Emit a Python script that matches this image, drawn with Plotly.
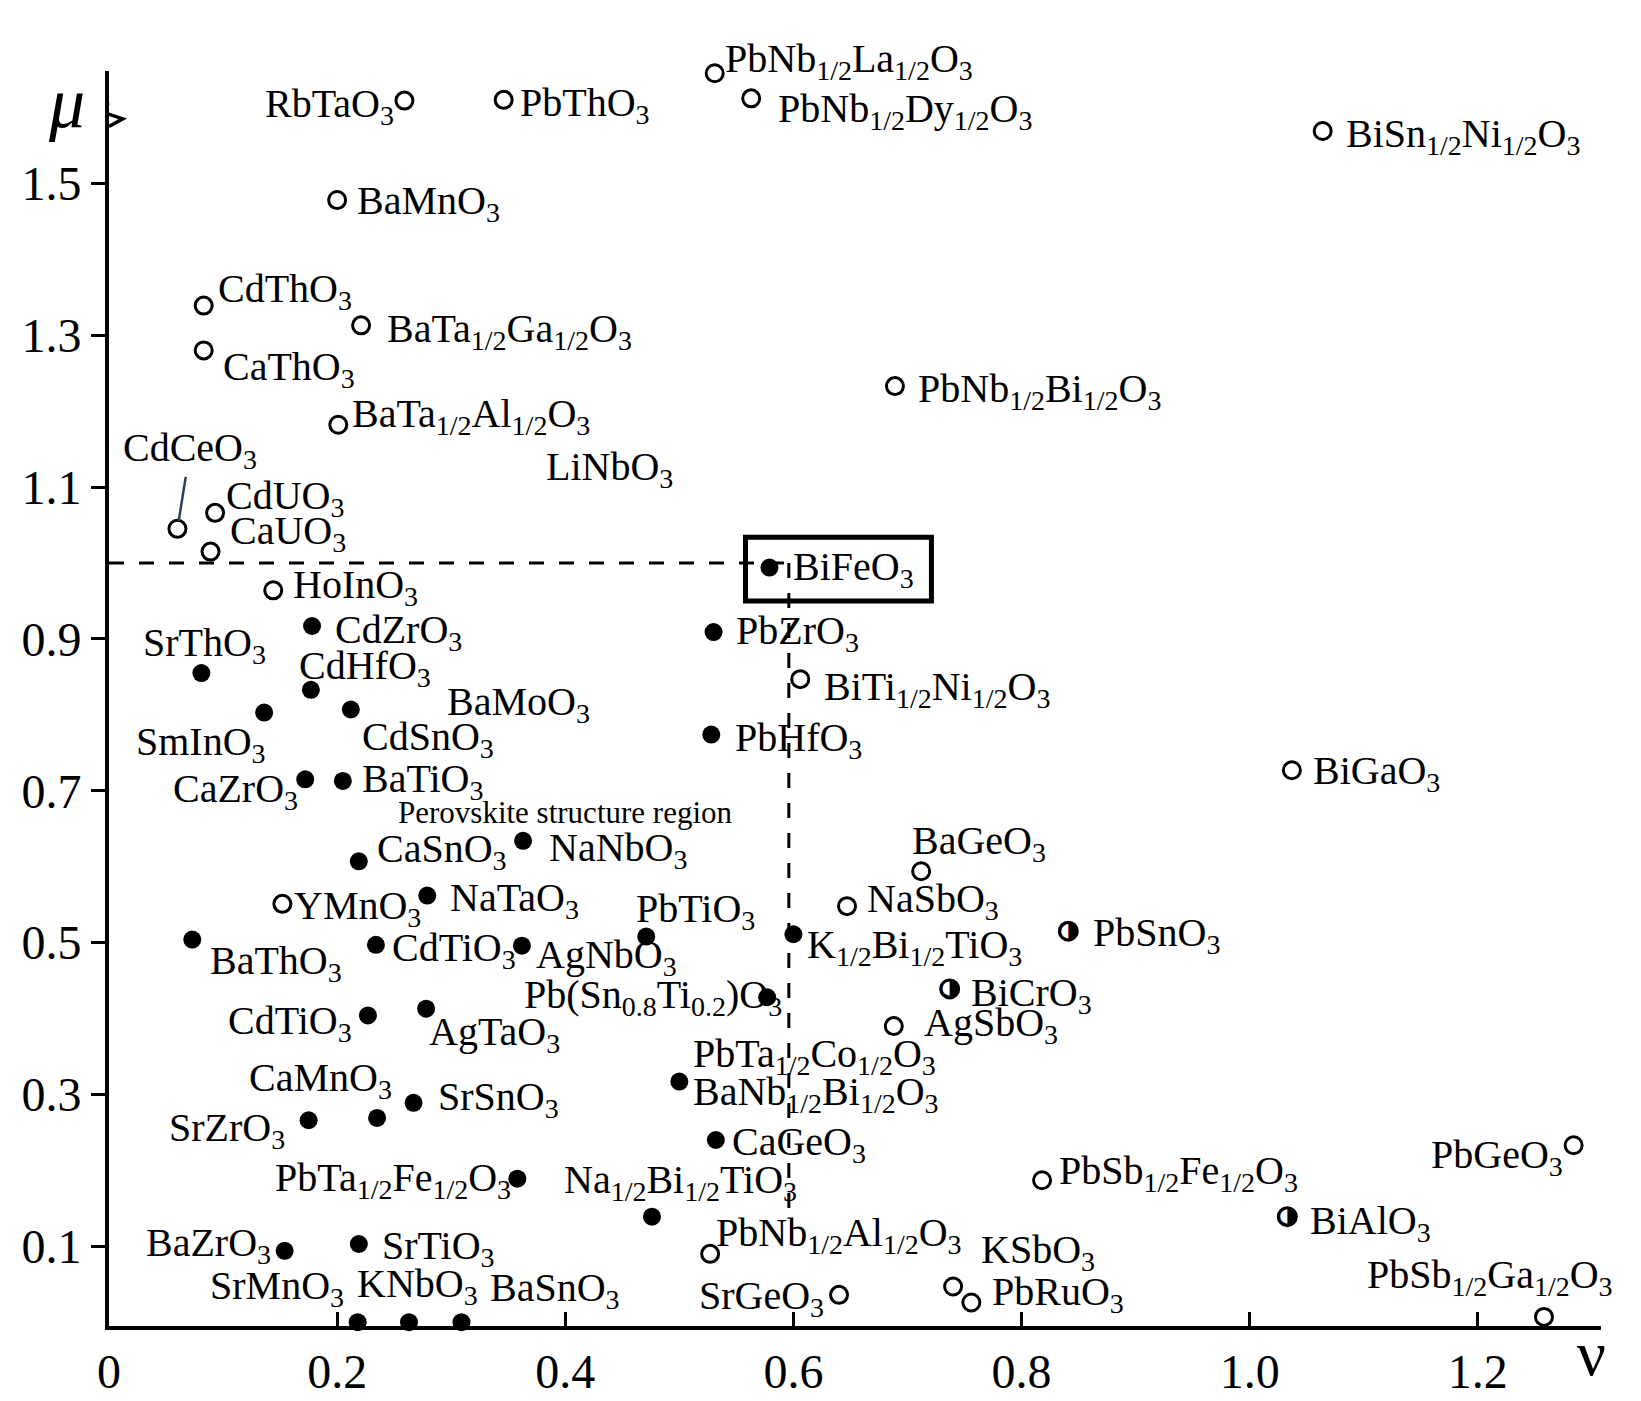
import plotly.graph_objects as go
import re

S = 1.046
def f(s):
    return re.sub(r'_\{([^}]*)\}', r'<sub>\1</sub>', s)

# open circles: name, nu, mu, label anchor, dx, dy (display px)
open_names = ["PbNb_{1/2}La_{1/2}O_{3}","RbTaO_{3}","PbThO_{3}","PbNb_{1/2}Dy_{1/2}O_{3}","BiSn_{1/2}Ni_{1/2}O_{3}",
 "BaMnO_{3}","CdThO_{3}","BaTa_{1/2}Ga_{1/2}O_{3}","CaThO_{3}","PbNb_{1/2}Bi_{1/2}O_{3}","BaTa_{1/2}Al_{1/2}O_{3}",
 "CdUO_{3}","CaUO_{3}","HoInO_{3}","BiTi_{1/2}Ni_{1/2}O_{3}","BiGaO_{3}","BaGeO_{3}","NaSbO_{3}","YMnO_{3}",
 "AgSbO_{3}","PbSb_{1/2}Fe_{1/2}O_{3}","PbGeO_{3}","PbNb_{1/2}Al_{1/2}O_{3}","SrGeO_{3}","KSbO_{3}","PbRuO_{3}",
 "PbSb_{1/2}Ga_{1/2}O_{3}","CdCeO_{3}"]
open_nu = [0.531,0.259,0.346,0.563,1.064,0.200,0.083,0.221,0.083,0.689,0.201,0.093,0.089,0.144,0.606,1.037,0.712,
 0.647,0.152,0.688,0.818,1.284,0.527,0.640,0.740,0.756,1.258,0.060]
open_mu = [1.645,1.609,1.610,1.612,1.569,1.478,1.339,1.313,1.280,1.233,1.182,1.066,1.015,0.964,0.847,0.727,0.594,
 0.548,0.551,0.390,0.187,0.233,0.090,0.036,0.047,0.026,0.007,1.045]
open_lab = [("left",8,-17),("right",-8,0),("left",14,0),("left",24,7),("left",20,0),("left",17,-2),("left",12,-19),
 ("left",23,0),("left",17,13),("left",20,0),("left",11,-13),("left",9,-19),("left",17,-23),("left",17,-8),
 ("left",21,4),("left",18,-2),("center",55,-32),("left",17,-10),("left",9,-1),("left",27,-6),("left",14,-12),
 ("right",-8,6),("left",4,-23),("right",-12,-2),("left",25,-38),("left",18,-13),("right",68,-43),None]

half_names = ["PbSnO_{3}","BiCrO_{3}","BiAlO_{3}"]
half_nu = [0.841,0.737,1.033]
half_mu = [0.515,0.439,0.139]
half_lab = [("left",22,-1),("left",18,1),("left",20,1)]

fill_names = ["BiFeO_{3}","PbZrO_{3}","SrThO_{3}","CdZrO_{3}","CdHfO_{3}","CdSnO_{3}","SmInO_{3}","PbHfO_{3}",
 "CaZrO_{3}","BaTiO_{3}","NaNbO_{3}","CaSnO_{3}","NaTaO_{3}","BaThO_{3}","CdTiO_{3}","AgNbO_{3}","PbTiO_{3}",
 "K_{1/2}Bi_{1/2}TiO_{3}","Pb(Sn_{0.8}Ti_{0.2})O_{3}","CdTiO_{3}","AgTaO_{3}","PbTa_{1/2}Co_{1/2}O_{3}",
 "SrSnO_{3}","CaMnO_{3}","SrZrO_{3}","CaGeO_{3}","PbTa_{1/2}Fe_{1/2}O_{3}","Na_{1/2}Bi_{1/2}TiO_{3}",
 "BaZrO_{3}","SrTiO_{3}","SrMnO_{3}","KNbO_{3}","BaSnO_{3}"]
fill_nu = [0.579,0.530,0.081,0.178,0.177,0.212,0.136,0.528,0.172,0.205,0.363,0.219,0.279,0.073,0.234,0.362,0.471,
 0.600,0.577,0.227,0.278,0.500,0.267,0.235,0.175,0.532,0.358,0.476,0.154,0.219,0.218,0.263,0.309]
fill_mu = [0.994,0.909,0.855,0.917,0.833,0.807,0.803,0.774,0.715,0.713,0.634,0.607,0.562,0.504,0.497,0.496,0.508,
 0.511,0.428,0.404,0.413,0.317,0.289,0.269,0.266,0.240,0.189,0.139,0.094,0.103,0.0,0.0,0.0]
fill_lab = [("left",21,-4),("left",20,-4),("right",64,-32),("left",20,1),("left",-13,-26),("left",9,23),
 ("right",4,25),("left",21,0),("right",-5,6),("left",16,-5),("left",23,4),("left",15,-15),("left",20,-1),
 ("left",15,17),("left",13,0),("left",12,6),("center",47,-29),("left",11,7),("right",16,-5),("right",-13,2),
 ("left",1,19),("left",11,-29),("left",21,-9),("right",16,-41),("right",-21,4),("left",14,-1),("right",-4,-4),
 ("left",-86,-38),("right",-11,-11),("left",20,-1),("right",-11,-38),("left",-52,-40),("left",25,-36)]

# extra labels without markers
extra_text = ["LiNbO_{3}", "BaMoO_{3}", "BaNb_{1/2}Bi_{1/2}O_{3}"]
extra_nu = [0.439, 0.359, 0.500]
extra_mu = [1.131, 0.821, 0.317]

FONT = "Liberation Serif"
fig = go.Figure()
fig.add_trace(go.Scatter(x=fill_nu, y=fill_mu, mode="markers", cliponaxis=False,
    marker=dict(symbol="circle", size=18, color="black")))
fig.add_trace(go.Scatter(x=open_nu, y=open_mu, mode="markers", cliponaxis=False,
    marker=dict(symbol="circle-open", size=17, color="black", line=dict(width=3))))
fig.add_trace(go.Scatter(x=half_nu, y=half_mu, mode="markers", cliponaxis=False,
    marker=dict(symbol="circle", size=18, color="white", line=dict(width=3, color="black"))))
fig.add_trace(go.Scatter(x=half_nu, y=half_mu, mode="text", text=["\u25D1"]*3, cliponaxis=False,
    textfont=dict(family="DejaVu Sans", size=22, color="black")))

ann = []
def add(names, xs, ys, labs):
    for n, x, y, l in zip(names, xs, ys, labs):
        if l is None:
            continue
        a, dx, dy = l
        ann.append(dict(x=x, y=y, text=f(n), showarrow=False, xanchor=a, yanchor="middle",
                        xshift=dx*S, yshift=-(dy+5)*S, font=dict(family=FONT, size=40, color="black")))
add(open_names, open_nu, open_mu, open_lab)
add(half_names, half_nu, half_mu, half_lab)
add(fill_names, fill_nu, fill_mu, fill_lab)
for t, x, y in zip(extra_text, extra_nu, extra_mu):
    ax = dict(x=x, y=y, text=f(t), showarrow=False, xanchor="center", yanchor="middle",
              yshift=-5*S, font=dict(family=FONT, size=40, color="black"))
    if t.startswith("BaNb"):
        ax.update(xanchor="left", xshift=11*S, yshift=-(7+5)*S)
    ann.append(ax)
ann.append(dict(x=open_nu[-1], y=open_mu[-1], text=f(open_names[-1]), showarrow=True, arrowhead=0,
                arrowwidth=2.5, ax=12*S, ay=-75*S, standoff=8,
                font=dict(family=FONT, size=40, color="black")))
ann.append(dict(x=0.400, y=0.672, text="Perovskite structure region", showarrow=False,
                font=dict(family=FONT, size=31, color="black")))
ann.append(dict(x=0, y=1.648, text="<i>μ</i>", showarrow=False, xanchor="right",
                yanchor="top", xshift=-22, yshift=10, font=dict(family=FONT, size=72, color="black")))
ann.append(dict(x=1.308, y=0, text="ν", showarrow=False, xanchor="center", yanchor="top",
                xshift=-10, yshift=6, font=dict(family=FONT, size=64, color="black")))

shapes = [
    dict(type="line", x0=0, x1=0.594, y0=1.0, y1=1.0, line=dict(color="black", width=3, dash="longdash")),
    dict(type="line", x0=0.596, x1=0.596, y0=1.0, y1=0.15, line=dict(color="black", width=3, dash="longdash")),
    dict(type="rect", x0=0.558, x1=0.721, y0=0.950, y1=1.034, line=dict(color="black", width=5)),
    dict(type="rect", x0=-0.012, x1=0.012, y0=1.572, y1=1.608, fillcolor="white", line=dict(width=0),
         layer="above"),
    dict(type="path", path="M 0,1.575 L 0.012,1.585 L -0.012,1.597 L 0,1.606",
         line=dict(color="black", width=3.5), layer="above"),
]

fig.update_layout(
    width=1641, height=1401, plot_bgcolor="white", paper_bgcolor="white", showlegend=False,
    margin=dict(l=101, r=48, t=63, b=83),
    annotations=ann, shapes=shapes,
    xaxis=dict(range=[0, 1.308], showgrid=False, zeroline=False, showline=True, linecolor="black", linewidth=4,
               tickvals=[0, 0.2, 0.4, 0.6, 0.8, 1.0, 1.2], ticktext=["0", "0.2", "0.4", "0.6", "0.8", "1.0", "1.2"],
               ticks="inside", ticklen=14, tickwidth=3, tickcolor="black",
               tickfont=dict(family=FONT, size=48, color="black")),
    yaxis=dict(range=[-0.005, 1.648], showgrid=False, zeroline=False, showline=True, linecolor="black", linewidth=4,
               tickvals=[0.1, 0.3, 0.5, 0.7, 0.9, 1.1, 1.3, 1.5],
               ticktext=["0.1", "0.3", "0.5", "0.7", "0.9", "1.1", "1.3", "1.5"],
               ticks="outside", ticklen=14, tickwidth=3, tickcolor="black",
               tickfont=dict(family=FONT, size=48, color="black")),
)
fig.write_html("out.html")
